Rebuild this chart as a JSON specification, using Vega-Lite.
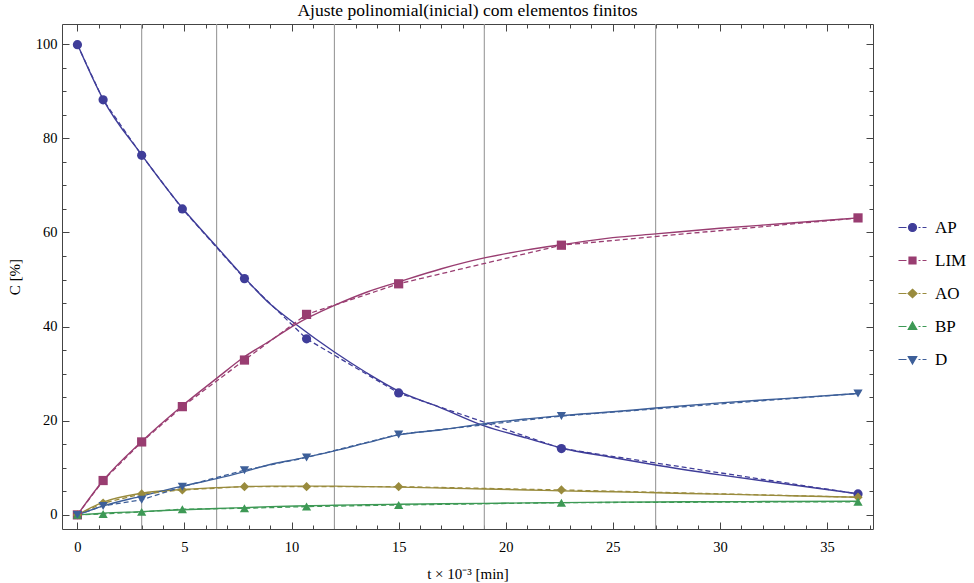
{
  "$schema": "https://vega.github.io/schema/vega-lite/v6.json",
  "width": 811,
  "height": 505,
  "autosize": {"type": "none"},
  "padding": {"left": 62, "top": 24, "right": 101, "bottom": 54},
  "background": "white",
  "config": {
    "font": "Liberation Serif",
    "view": {"stroke": null},
    "axis": {"labelFont": "Liberation Serif", "titleFont": "Liberation Serif", "labelColor": "#000", "titleColor": "#000", "titleFontWeight": "normal", "domainColor": "#444", "tickColor": "#444", "grid": false}
  },
  "title": {"text": "Ajuste polinomial(inicial) com elementos finitos", "font": "Liberation Serif", "fontSize": 17.5, "fontWeight": "normal", "color": "#000", "offset": 4, "anchor": "middle"},
  "datasets": {
    "pts": [
      {"series": "AP", "t": 0, "c": 99.9}, {"series": "AP", "t": 1.2, "c": 88.2}, {"series": "AP", "t": 3.0, "c": 76.4}, {"series": "AP", "t": 4.9, "c": 65.0}, {"series": "AP", "t": 7.8, "c": 50.2}, {"series": "AP", "t": 10.7, "c": 37.4}, {"series": "AP", "t": 15.0, "c": 25.9}, {"series": "AP", "t": 22.6, "c": 14.1}, {"series": "AP", "t": 36.45, "c": 4.45},
      {"series": "LIM", "t": 0, "c": 0}, {"series": "LIM", "t": 1.2, "c": 7.3}, {"series": "LIM", "t": 3.0, "c": 15.5}, {"series": "LIM", "t": 4.9, "c": 23.0}, {"series": "LIM", "t": 7.8, "c": 32.9}, {"series": "LIM", "t": 10.7, "c": 42.6}, {"series": "LIM", "t": 15.0, "c": 49.1}, {"series": "LIM", "t": 22.6, "c": 57.3}, {"series": "LIM", "t": 36.45, "c": 63.1},
      {"series": "AO", "t": 0, "c": 0}, {"series": "AO", "t": 1.2, "c": 2.5}, {"series": "AO", "t": 3.0, "c": 4.45}, {"series": "AO", "t": 4.9, "c": 5.3}, {"series": "AO", "t": 7.8, "c": 6.0}, {"series": "AO", "t": 10.7, "c": 6.0}, {"series": "AO", "t": 15.0, "c": 6.0}, {"series": "AO", "t": 22.6, "c": 5.3}, {"series": "AO", "t": 36.45, "c": 3.75},
      {"series": "BP", "t": 0, "c": 0}, {"series": "BP", "t": 1.2, "c": 0.2}, {"series": "BP", "t": 3.0, "c": 0.64}, {"series": "BP", "t": 4.9, "c": 1.2}, {"series": "BP", "t": 7.8, "c": 1.4}, {"series": "BP", "t": 10.7, "c": 1.76}, {"series": "BP", "t": 15.0, "c": 2.1}, {"series": "BP", "t": 22.6, "c": 2.6}, {"series": "BP", "t": 36.45, "c": 2.8},
      {"series": "D", "t": 0, "c": 0}, {"series": "D", "t": 1.2, "c": 1.9}, {"series": "D", "t": 3.0, "c": 3.2}, {"series": "D", "t": 4.9, "c": 6.0}, {"series": "D", "t": 7.8, "c": 9.5}, {"series": "D", "t": 10.7, "c": 12.2}, {"series": "D", "t": 15.0, "c": 17.1}, {"series": "D", "t": 22.6, "c": 21.0}, {"series": "D", "t": 36.45, "c": 25.8}
    ],
    "fit": [
      {"series": "AP", "t": 0, "c": 100}, {"series": "AP", "t": 1.2, "c": 88.3}, {"series": "AP", "t": 3, "c": 76.5}, {"series": "AP", "t": 4.9, "c": 65.2}, {"series": "AP", "t": 6.5, "c": 57.0}, {"series": "AP", "t": 7.8, "c": 50.4}, {"series": "AP", "t": 9, "c": 44.8}, {"series": "AP", "t": 10.2, "c": 40.5}, {"series": "AP", "t": 12, "c": 34.6}, {"series": "AP", "t": 13.5, "c": 30.2}, {"series": "AP", "t": 15, "c": 26.3}, {"series": "AP", "t": 17, "c": 22.7}, {"series": "AP", "t": 19, "c": 18.9}, {"series": "AP", "t": 21, "c": 16.3}, {"series": "AP", "t": 22.6, "c": 14.2}, {"series": "AP", "t": 25, "c": 12.2}, {"series": "AP", "t": 27, "c": 10.6}, {"series": "AP", "t": 30, "c": 8.5}, {"series": "AP", "t": 33, "c": 6.6}, {"series": "AP", "t": 36.45, "c": 4.5},
      {"series": "LIM", "t": 0, "c": 0}, {"series": "LIM", "t": 1.2, "c": 7.3}, {"series": "LIM", "t": 3, "c": 15.6}, {"series": "LIM", "t": 4.9, "c": 23.2}, {"series": "LIM", "t": 6.5, "c": 29.0}, {"series": "LIM", "t": 7.8, "c": 33.6}, {"series": "LIM", "t": 9, "c": 37.0}, {"series": "LIM", "t": 10.2, "c": 40.5}, {"series": "LIM", "t": 12, "c": 44.5}, {"series": "LIM", "t": 13.5, "c": 47.3}, {"series": "LIM", "t": 15, "c": 49.5}, {"series": "LIM", "t": 17, "c": 52.3}, {"series": "LIM", "t": 19, "c": 54.6}, {"series": "LIM", "t": 21, "c": 56.3}, {"series": "LIM", "t": 22.6, "c": 57.4}, {"series": "LIM", "t": 25, "c": 58.9}, {"series": "LIM", "t": 27, "c": 59.7}, {"series": "LIM", "t": 30, "c": 60.9}, {"series": "LIM", "t": 33, "c": 61.9}, {"series": "LIM", "t": 36.45, "c": 63.1},
      {"series": "AO", "t": 0, "c": 0}, {"series": "AO", "t": 1.2, "c": 2.7}, {"series": "AO", "t": 3, "c": 4.6}, {"series": "AO", "t": 4.9, "c": 5.4}, {"series": "AO", "t": 6.5, "c": 5.8}, {"series": "AO", "t": 7.8, "c": 6.0}, {"series": "AO", "t": 9, "c": 6.1}, {"series": "AO", "t": 10.2, "c": 6.1}, {"series": "AO", "t": 12, "c": 6.1}, {"series": "AO", "t": 13.5, "c": 6.0}, {"series": "AO", "t": 15, "c": 5.9}, {"series": "AO", "t": 17, "c": 5.7}, {"series": "AO", "t": 19, "c": 5.5}, {"series": "AO", "t": 21, "c": 5.3}, {"series": "AO", "t": 22.6, "c": 5.1}, {"series": "AO", "t": 25, "c": 4.9}, {"series": "AO", "t": 27, "c": 4.7}, {"series": "AO", "t": 30, "c": 4.4}, {"series": "AO", "t": 33, "c": 4.1}, {"series": "AO", "t": 36.45, "c": 3.75},
      {"series": "BP", "t": 0, "c": 0}, {"series": "BP", "t": 1.2, "c": 0.35}, {"series": "BP", "t": 3, "c": 0.7}, {"series": "BP", "t": 4.9, "c": 1.1}, {"series": "BP", "t": 6.5, "c": 1.35}, {"series": "BP", "t": 7.8, "c": 1.55}, {"series": "BP", "t": 9, "c": 1.75}, {"series": "BP", "t": 10.2, "c": 1.9}, {"series": "BP", "t": 12, "c": 2.05}, {"series": "BP", "t": 13.5, "c": 2.15}, {"series": "BP", "t": 15, "c": 2.25}, {"series": "BP", "t": 17, "c": 2.35}, {"series": "BP", "t": 19, "c": 2.45}, {"series": "BP", "t": 21, "c": 2.55}, {"series": "BP", "t": 22.6, "c": 2.6}, {"series": "BP", "t": 25, "c": 2.7}, {"series": "BP", "t": 27, "c": 2.75}, {"series": "BP", "t": 30, "c": 2.8}, {"series": "BP", "t": 33, "c": 2.85}, {"series": "BP", "t": 36.45, "c": 2.9},
      {"series": "D", "t": 0, "c": 0}, {"series": "D", "t": 1.2, "c": 1.9}, {"series": "D", "t": 3, "c": 4.0}, {"series": "D", "t": 4.9, "c": 6.1}, {"series": "D", "t": 6.5, "c": 7.7}, {"series": "D", "t": 7.8, "c": 9.2}, {"series": "D", "t": 9, "c": 10.7}, {"series": "D", "t": 10.2, "c": 11.8}, {"series": "D", "t": 12, "c": 13.6}, {"series": "D", "t": 13.5, "c": 15.3}, {"series": "D", "t": 15, "c": 17.0}, {"series": "D", "t": 17, "c": 18.1}, {"series": "D", "t": 19, "c": 19.4}, {"series": "D", "t": 21, "c": 20.4}, {"series": "D", "t": 22.6, "c": 21.1}, {"series": "D", "t": 25, "c": 21.9}, {"series": "D", "t": 27, "c": 22.7}, {"series": "D", "t": 30, "c": 23.8}, {"series": "D", "t": 33, "c": 24.7}, {"series": "D", "t": 36.45, "c": 25.8}
    ],
    "el": [{"t": 3}, {"t": 6.5}, {"t": 12}, {"t": 19}, {"t": 27}],
    "leg": [{"series": "AP"}, {"series": "LIM"}, {"series": "AO"}, {"series": "BP"}, {"series": "D"}]
  },
  "layer": [
    {
      "data": {"name": "el"},
      "mark": {"type": "rule", "color": "#9a9a9a", "strokeWidth": 1.1},
      "encoding": {
        "x": {"field": "t", "type": "quantitative", "scale": {"domain": [-0.72, 37.15], "nice": false, "zero": false}, "axis": null}
      }
    },
    {
      "data": {"name": "fit"},
      "mark": {"type": "line", "interpolate": "monotone", "strokeWidth": 1.4},
      "encoding": {
        "x": {"field": "t", "type": "quantitative", "scale": {"domain": [-0.72, 37.15], "nice": false, "zero": false},
          "axis": {"orient": "bottom", "title": "t × 10⁻³ [min]", "titleFontSize": 15, "titlePadding": 10, "values": [0,1,2,3,4,5,6,7,8,9,10,11,12,13,14,15,16,17,18,19,20,21,22,23,24,25,26,27,28,29,30,31,32,33,34,35,36,37],
            "labelExpr": "datum.value % 5 === 0 ? datum.label : ''", "labelFontSize": 14.5, "labelPadding": 18, "labelFlush": false, "labelOverlap": false,
            "tickSize": {"condition": {"test": "datum.value % 5 === 0", "value": -7}, "value": -4}}},
        "y": {"field": "c", "type": "quantitative", "scale": {"domain": [-3, 104.3], "nice": false, "zero": false},
          "axis": {"orient": "left", "title": "C [%]", "titleFontSize": 15, "titlePadding": 13, "values": [0,5,10,15,20,25,30,35,40,45,50,55,60,65,70,75,80,85,90,95,100],
            "labelExpr": "datum.value % 20 === 0 ? datum.label : ''", "labelFontSize": 14.5, "labelPadding": 12, "labelOverlap": false, "labelFlush": false,
            "tickSize": {"condition": {"test": "datum.value % 20 === 0", "value": -7}, "value": -4}}},
        "color": {"field": "series", "type": "nominal", "scale": {"domain": ["AP", "LIM", "AO", "BP", "D"], "range": ["#3F3D99", "#993D71", "#998B3D", "#3D9955", "#3D5F99"]}, "legend": null}
      }
    },
    {
      "data": {"name": "pts"},
      "mark": {"type": "line", "strokeDash": [5, 3], "strokeWidth": 1.3},
      "encoding": {
        "x": {"field": "t", "type": "quantitative", "scale": {"domain": [-0.72, 37.15], "nice": false, "zero": false},
          "axis": {"orient": "top", "title": null, "labels": false, "values": [0,1,2,3,4,5,6,7,8,9,10,11,12,13,14,15,16,17,18,19,20,21,22,23,24,25,26,27,28,29,30,31,32,33,34,35,36,37],
            "tickSize": {"condition": {"test": "datum.value % 5 === 0", "value": -7}, "value": -4}}},
        "y": {"field": "c", "type": "quantitative", "scale": {"domain": [-3, 104.3], "nice": false, "zero": false},
          "axis": {"orient": "right", "title": null, "labels": false, "values": [0,5,10,15,20,25,30,35,40,45,50,55,60,65,70,75,80,85,90,95,100],
            "tickSize": {"condition": {"test": "datum.value % 20 === 0", "value": -7}, "value": -4}}},
        "color": {"field": "series", "type": "nominal", "scale": {"domain": ["AP", "LIM", "AO", "BP", "D"], "range": ["#3F3D99", "#993D71", "#998B3D", "#3D9955", "#3D5F99"]}, "legend": null}
      }
    },
    {
      "data": {"name": "pts"},
      "mark": {"type": "point", "filled": true, "opacity": 1, "size": 85},
      "encoding": {
        "x": {"field": "t", "type": "quantitative", "scale": {"domain": [-0.72, 37.15], "nice": false, "zero": false}, "axis": null},
        "y": {"field": "c", "type": "quantitative", "scale": {"domain": [-3, 104.3], "nice": false, "zero": false}, "axis": null},
        "color": {"field": "series", "type": "nominal", "scale": {"domain": ["AP", "LIM", "AO", "BP", "D"], "range": ["#3F3D99", "#993D71", "#998B3D", "#3D9955", "#3D5F99"]}, "legend": null},
        "shape": {"field": "series", "type": "nominal", "scale": {"domain": ["AP", "LIM", "AO", "BP", "D"], "range": ["circle", "square", "diamond", "triangle-up", "triangle-down"]}, "legend": null}
      }
    },
    {
      "data": {"name": "leg"},
      "mark": {"type": "point", "filled": true, "opacity": 0},
      "encoding": {
        "color": {"field": "series", "type": "nominal", "scale": {"domain": ["AP", "LIM", "AO", "BP", "D"], "range": ["#3F3D99", "#993D71", "#998B3D", "#3D9955", "#3D5F99"]},
          "legend": {"orient": "none", "legendX": 842, "legendY": 195, "title": null, "labelFont": "Liberation Serif", "labelFontSize": 17, "labelColor": "#000", "symbolSize": 100, "symbolStrokeWidth": 1.2, "labelOffset": 14, "rowPadding": 15, "padding": 0, "symbolOpacity": 1}},
        "stroke": {"field": "series", "type": "nominal", "scale": {"domain": ["AP", "LIM", "AO", "BP", "D"], "range": ["#3F3D99", "#993D71", "#998B3D", "#3D9955", "#3D5F99"]},
          "legend": {"orient": "none", "legendX": 842, "legendY": 195, "title": null, "labelFont": "Liberation Serif", "labelFontSize": 17, "labelColor": "#000", "symbolSize": 100, "symbolStrokeWidth": 1.2, "labelOffset": 14, "rowPadding": 15, "padding": 0, "symbolOpacity": 1}},
        "shape": {"field": "series", "type": "nominal", "scale": {"domain": ["AP", "LIM", "AO", "BP", "D"], "range": [
            "M-2.8,0L-1.2,0M1.2,0L1.6,0M2.0,0L2.8,0M0.8,0A0.8,0.8,0,1,1,-0.8,0A0.8,0.8,0,1,1,0.8,0Z",
            "M-2.8,0L-1.2,0M1.2,0L1.6,0M2.0,0L2.8,0M-0.7,-0.7L0.7,-0.7L0.7,0.7L-0.7,0.7Z",
            "M-2.8,0L-1.2,0M1.2,0L1.6,0M2.0,0L2.8,0M0,-0.85L0.9,0L0,0.85L-0.9,0Z",
            "M-2.8,0L-1.2,0M1.2,0L1.6,0M2.0,0L2.8,0M0,-0.9L0.85,0.6L-0.85,0.6Z",
            "M-2.8,0L-1.2,0M1.2,0L1.6,0M2.0,0L2.8,0M0,0.9L0.85,-0.6L-0.85,-0.6Z"]},
          "legend": {"orient": "none", "legendX": 842, "legendY": 195, "title": null, "labelFont": "Liberation Serif", "labelFontSize": 17, "labelColor": "#000", "symbolSize": 100, "symbolStrokeWidth": 1.2, "labelOffset": 14, "rowPadding": 15, "padding": 0, "symbolOpacity": 1}}
      }
    }
  ],
  "resolve": {
    "axis": {"x": "independent", "y": "independent"},
    "scale": {"shape": "independent", "color": "independent", "stroke": "independent"}
  }
}
